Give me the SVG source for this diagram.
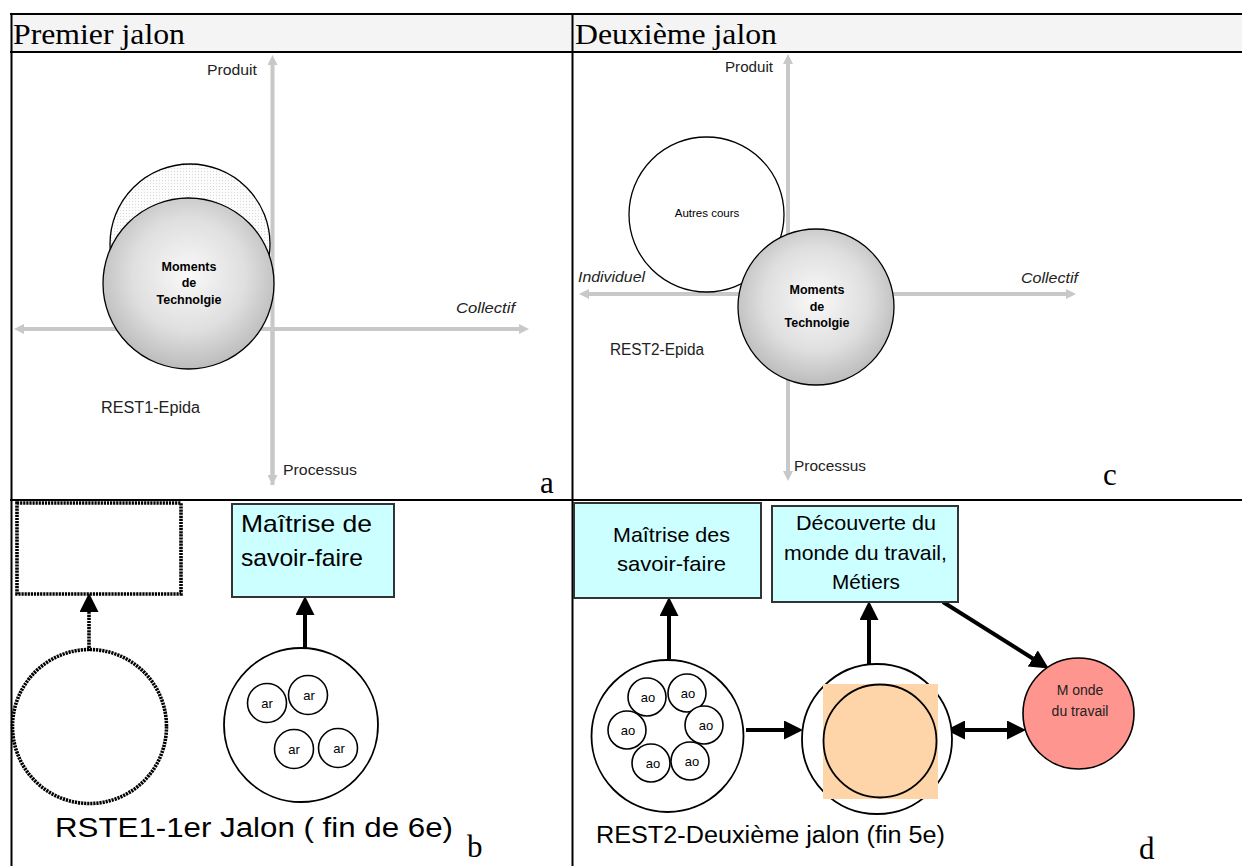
<svg xmlns="http://www.w3.org/2000/svg" width="1242" height="866" viewBox="0 0 1242 866">
<style>
.hdr{font-family:"Liberation Serif",serif;font-size:30px;fill:#000}
.let{font-family:"Liberation Serif",serif;font-size:31px;fill:#000}
.lbl{font-family:"Liberation Sans",Arial,sans-serif;font-size:14px;fill:#222}
.rest{font-family:"Liberation Sans",Arial,sans-serif;font-size:16px;fill:#222}
.it{font-style:italic}
.mom{font-family:"Liberation Sans",Arial,sans-serif;font-size:12.5px;font-weight:bold;fill:#000;text-anchor:middle}
.sm{font-family:"Liberation Sans",Arial,sans-serif;font-size:11.5px;fill:#000;text-anchor:middle}
.box{fill:#ccffff;stroke:#333;stroke-width:2}
.bt{font-family:"Liberation Sans",Arial,sans-serif;font-size:21px;fill:#000}
.bt2{font-family:"Liberation Sans",Arial,sans-serif;font-size:24px;fill:#000}
.cap{font-family:"Liberation Sans",Arial,sans-serif;font-size:27px;fill:#000}
.cap2{font-family:"Liberation Sans",Arial,sans-serif;font-size:23px;fill:#000}
.axis{stroke:#c8c8c8;stroke-width:4;fill:none}
.circ{fill:#fff;stroke:#000;stroke-width:1.8}
.small{fill:#fff;stroke:#000;stroke-width:1.6}
.dot{fill:none;stroke:#000;stroke-width:3.6;stroke-dasharray:2.2 0.9}
.arr{stroke:#000;stroke-width:4;fill:none}
.line{stroke:#000;stroke-width:2;fill:none}
.ar{font-family:"Liberation Sans",Arial,sans-serif;font-size:13px;fill:#000;text-anchor:middle}
</style>
<defs>
<marker id="ga" markerUnits="userSpaceOnUse" markerWidth="10" markerHeight="10" refX="5" refY="5" orient="auto">
<path d="M0,0 L10,5 L0,10 z" fill="#c8c8c8"/>
</marker>
<marker id="ba" markerUnits="userSpaceOnUse" markerWidth="19" markerHeight="19" refX="8" refY="9.5" orient="auto">
<path d="M0,0 L19,9.5 L0,19 z" fill="#000"/>
</marker>
<marker id="bs" markerUnits="userSpaceOnUse" markerWidth="19" markerHeight="19" refX="8" refY="9.5" orient="auto-start-reverse">
<path d="M0,0 L19,9.5 L0,19 z" fill="#000"/>
</marker>
<radialGradient id="mg" cx="50%" cy="45%" r="55%">
<stop offset="0" stop-color="#f9f9f9"/>
<stop offset="0.6" stop-color="#dfdfdf"/>
<stop offset="1" stop-color="#bcbcbc"/>
</radialGradient>
<pattern id="stip" width="3" height="3" patternUnits="userSpaceOnUse">
<rect width="3" height="3" fill="#fcfcfc"/>
<rect width="1" height="1" fill="#dadada"/>
</pattern>
</defs>

<g id="table">
<rect x="11" y="14" width="1240" height="38" fill="#f4f4f4"/>
<line class="line" x1="10" y1="14" x2="1242" y2="14"/>
<line class="line" x1="10" y1="52" x2="1242" y2="52"/>
<line class="line" x1="10" y1="500" x2="1242" y2="500"/>
<line class="line" x1="11.5" y1="13" x2="11.5" y2="866"/>
<line class="line" x1="572.5" y1="13" x2="572.5" y2="866"/>
<text class="hdr" x="13" y="44" textLength="172" lengthAdjust="spacingAndGlyphs">Premier jalon</text>
<text class="hdr" x="575" y="44" textLength="202" lengthAdjust="spacingAndGlyphs">Deuxième jalon</text>
</g>

<g id="connectors">
<line class="axis" x1="272.5" y1="485" x2="272.5" y2="60" marker-end="url(#ga)"/>
<line class="axis" x1="272.5" y1="329" x2="272.5" y2="480" marker-end="url(#ga)"/>
<line class="axis" x1="272.5" y1="329" x2="19" y2="329" marker-end="url(#ga)"/>
<line class="axis" x1="272.5" y1="329" x2="524" y2="329" marker-end="url(#ga)"/>
<line class="axis" x1="788" y1="294" x2="788" y2="59" marker-end="url(#ga)"/>
<line class="axis" x1="788" y1="294" x2="788" y2="476" marker-end="url(#ga)"/>
<line class="axis" x1="788" y1="294" x2="584" y2="294" marker-end="url(#ga)"/>
<line class="axis" x1="788" y1="294" x2="1071" y2="294" marker-end="url(#ga)"/>
<line class="dot" x1="89" y1="651" x2="89" y2="604" marker-end="url(#ba)"/>
<line class="arr" x1="305" y1="648" x2="305" y2="607" marker-end="url(#ba)"/>
<line class="arr" x1="669" y1="659" x2="669" y2="608" marker-end="url(#ba)"/>
<line class="arr" x1="869" y1="665" x2="869" y2="612" marker-end="url(#ba)"/>
<line class="arr" x1="746" y1="730" x2="792" y2="730" marker-end="url(#ba)"/>
<line class="arr" x1="957" y1="730" x2="1015" y2="730" marker-start="url(#bs)" marker-end="url(#ba)"/>
<line class="arr" x1="943" y1="602" x2="1039.5" y2="662.7" marker-end="url(#ba)"/>
</g>

<g id="panel-a-labels">
<text class="lbl" x="207" y="75" textLength="50" lengthAdjust="spacingAndGlyphs">Produit</text>
<text class="lbl it" x="456" y="313" textLength="59" lengthAdjust="spacingAndGlyphs">Collectif</text>
<text class="lbl" x="283" y="475" textLength="74" lengthAdjust="spacingAndGlyphs">Processus</text>
<text class="rest" x="101" y="413" textLength="99" lengthAdjust="spacingAndGlyphs">REST1-Epida</text>
<text class="let" x="540" y="493">a</text>
</g>

<g id="node-back-a">
<circle cx="190" cy="244" r="80" fill="url(#stip)" stroke="#000" stroke-width="1.3"/>
</g>
<g id="node-moments-a">
<circle cx="188.5" cy="283.5" r="85.5" fill="url(#mg)" stroke="#000" stroke-width="1.3"/>
<text class="mom" x="189" y="271">Moments</text>
<text class="mom" x="189" y="287">de</text>
<text class="mom" x="189" y="304">Technolgie</text>
</g>

<g id="panel-c-labels">
<text class="lbl" x="725" y="72" textLength="48" lengthAdjust="spacingAndGlyphs">Produit</text>
<text class="lbl it" x="578" y="282" textLength="67" lengthAdjust="spacingAndGlyphs">Individuel</text>
<text class="lbl it" x="1021" y="283" textLength="57" lengthAdjust="spacingAndGlyphs">Collectif</text>
<text class="lbl" x="794" y="471" textLength="72" lengthAdjust="spacingAndGlyphs">Processus</text>
<text class="rest" x="610" y="355" textLength="94" lengthAdjust="spacingAndGlyphs">REST2-Epida</text>
<text class="let" x="1103" y="485">c</text>
</g>

<g id="node-autres">
<circle cx="706.5" cy="214.5" r="77.5" fill="#fff" stroke="#000" stroke-width="1.3"/>
<text class="sm" x="707" y="217">Autres cours</text>
</g>
<g id="node-moments-c">
<circle cx="816" cy="307" r="78" fill="url(#mg)" stroke="#000" stroke-width="1.3"/>
<text class="mom" x="817" y="294">Moments</text>
<text class="mom" x="817" y="311">de</text>
<text class="mom" x="817" y="327">Technolgie</text>
</g>

<g id="node-b-dotbox">
<rect class="dot" x="17" y="503" width="164" height="91"/>
</g>
<g id="node-b-dotcircle">
<circle class="dot" cx="89.5" cy="726.5" r="77"/>
</g>
<g id="node-b-box">
<rect class="box" x="232" y="504" width="162" height="93"/>
<text class="bt2" x="241" y="532" textLength="131" lengthAdjust="spacingAndGlyphs">Maîtrise de</text>
<text class="bt2" x="241" y="566" textLength="122" lengthAdjust="spacingAndGlyphs">savoir-faire</text>
</g>
<g id="node-b-ar">
<circle class="circ" cx="301" cy="725" r="77"/>
<circle class="small" cx="267" cy="703" r="19.5"/><text class="ar" x="267" y="708">ar</text>
<circle class="small" cx="308" cy="695" r="19.5"/><text class="ar" x="309" y="700">ar</text>
<circle class="small" cx="294" cy="749" r="19.5"/><text class="ar" x="294" y="754">ar</text>
<circle class="small" cx="338" cy="748" r="19.5"/><text class="ar" x="339" y="753">ar</text>
</g>
<g id="panel-b-labels">
<text class="cap" x="55" y="837" textLength="398" lengthAdjust="spacingAndGlyphs">RSTE1-1er Jalon ( fin de 6e)</text>
<text class="let" x="467" y="857">b</text>
</g>

<g id="node-d-box1">
<rect class="box" x="574" y="503" width="187" height="95"/>
<text class="bt" x="613" y="542" textLength="117" lengthAdjust="spacingAndGlyphs">Maîtrise des</text>
<text class="bt" x="617" y="571" textLength="109" lengthAdjust="spacingAndGlyphs">savoir-faire</text>
</g>
<g id="node-d-box2">
<rect class="box" x="772" y="506" width="186" height="96"/>
<text class="bt" x="796" y="530" textLength="140" lengthAdjust="spacingAndGlyphs">Découverte du</text>
<text class="bt" x="784" y="560" textLength="163" lengthAdjust="spacingAndGlyphs">monde du travail,</text>
<text class="bt" x="832" y="589" textLength="68" lengthAdjust="spacingAndGlyphs">Métiers</text>
</g>
<g id="node-d-ao">
<circle class="circ" cx="667.5" cy="736" r="76"/>
<circle class="small" cx="647" cy="697" r="19"/><text class="ar" x="648" y="702">ao</text>
<circle class="small" cx="687" cy="693" r="19"/><text class="ar" x="688" y="698">ao</text>
<circle class="small" cx="627" cy="730" r="19"/><text class="ar" x="628" y="735">ao</text>
<circle class="small" cx="704" cy="725" r="19"/><text class="ar" x="706" y="730">ao</text>
<circle class="small" cx="651" cy="763" r="19"/><text class="ar" x="653" y="768">ao</text>
<circle class="small" cx="690" cy="761" r="19"/><text class="ar" x="692" y="766">ao</text>
</g>
<g id="node-d-middle">
<circle class="circ" cx="877" cy="739" r="75"/>
<rect x="823" y="684" width="115" height="115" fill="#fdd5a8"/>
<circle cx="880" cy="741" r="56.5" fill="none" stroke="#000" stroke-width="1.8"/>
</g>
<g id="node-d-monde">
<circle cx="1078.5" cy="713.5" r="55.5" fill="#ff958f" stroke="#000" stroke-width="1.6"/>
<text class="lbl" x="1080" y="695" text-anchor="middle" font-size="14">M onde</text>
<text class="lbl" x="1080" y="716" text-anchor="middle" font-size="14">du travail</text>
</g>
<g id="panel-d-labels">
<text class="cap2" x="596" y="843" textLength="349" lengthAdjust="spacingAndGlyphs">REST2-Deuxième jalon (fin 5e)</text>
<text class="let" x="1139" y="859">d</text>
</g>
</svg>
